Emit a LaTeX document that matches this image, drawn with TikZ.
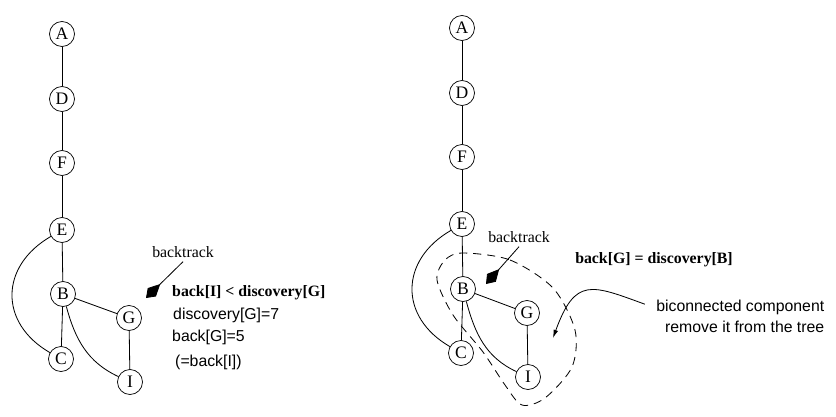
\documentclass[tikz,border=0pt]{standalone}
\usepackage{fontspec}
\setmainfont{Liberation Serif}
\newfontfamily\arialf{Liberation Sans}
\usetikzlibrary{arrows.meta}
\tikzset{
  vertex/.style={circle, draw, line width=0.6pt, inner sep=0pt, minimum size=0.75cm, font=\fontsize{15}{17}\selectfont},
  edge/.style={line width=0.7pt},
  note/.style={font=\fontsize{13.5}{16}\selectfont},
  sansnote/.style={font=\arialf\fontsize{13.5}{16}\selectfont, anchor=west, inner sep=0pt},
  pointer/.style={line width=0.7pt, -{Kite[length=17pt, width=10pt, inset=10pt]}},
}

\begin{document}
\begin{tikzpicture}[x=0.03cm, y=-0.03cm]
	\useasboundingbox (0,0) rectangle (836,416);

	% left tree
	\node[vertex] (A1) at (62,34) {A};
	\node[vertex] (D1) at (62,99) {D};
	\node[vertex] (F1) at (62,163) {F};
	\node[vertex] (E1) at (62,230) {E};
	\node[vertex] (B1) at (63,294) {B};
	\node[vertex] (G1) at (129,318) {G};
	\node[vertex] (C1) at (61,359) {C};
	\node[vertex] (I1) at (130,382) {I};

	\draw[edge] (A1) -- (D1);
	\draw[edge] (D1) -- (F1);
	\draw[edge] (F1) -- (E1);
	% vertex E
	\draw[edge] (E1) -- (B1);
	\draw[edge] (E1) to [out=210,in=150,looseness=1.3] (C1);
	% vertex B
	\draw[edge] (B1) -- (C1);
	\draw[edge] (B1) -- (G1);
	\draw[edge] (B1) to [out=285,in=155] (I1);
	% vertex G
	\draw[edge] (G1) -- (I1);

	\node[note] (lbt) at (183,252) {backtrack};
	\coordinate (ltip) at (146,298);
	\draw[pointer] (lbt.south) -- (ltip);
	\node[note, anchor=west, inner sep=0pt] (lcond) at (172,293) {\textbf{back[I] < discovery[G]}};
	\node[sansnote] (ldisc) at (173,315) {discovery[G]=7};
	\node[sansnote] (lback) at (172,337) {back[G]=5};
	\node[sansnote] (leq) at (175,362) {(=back[I])};

	% right tree
	\node[vertex] (A2) at (462,28) {A};
	\node[vertex] (D2) at (462,93) {D};
	\node[vertex] (F2) at (462,157) {F};
	\node[vertex] (E2) at (462,224) {E};
	\node[vertex] (B2) at (463,289) {B};
	\node[vertex] (G2) at (527,313) {G};
	\node[vertex] (C2) at (461,353) {C};
	\node[vertex] (I2) at (528,377) {I};

	\draw[edge] (A2) -- (D2);
	\draw[edge] (D2) -- (F2);
	\draw[edge] (F2) -- (E2);
	% vertex E
	\draw[edge] (E2) -- (B2);
	\draw[edge] (E2) to [out=210,in=150,looseness=1.3] (C2);
	% vertex B
	\draw[edge] (B2) -- (C2);
	\draw[edge] (B2) -- (G2);
	\draw[edge] (B2) to [out=285,in=155] (I2);
	% vertex G
	\draw[edge] (G2) -- (I2);

	% component outline
	\draw[edge, dash pattern=on 7pt off 5pt] plot[smooth cycle] coordinates {(463,253) (510,260) (553,288) (575,330) (572,367) (545,398) (522,405) (505,385) (483,352) (453,315) (437,280) (445,260)};

	\node[note] (rbt) at (519,237) {backtrack};
	\coordinate (rtip) at (486,284);
	\draw[pointer] (rbt.south) -- (rtip);
	\node[note] (rcond) at (654,260) {\textbf{back[G] = discovery[B]}};
	\node[sansnote, anchor=east, inner sep=3pt] (bc1) at (828,307) {biconnected component};
	\node[sansnote, anchor=east, inner sep=3pt] (bc2) at (828,327) {remove it from the tree};
	\coordinate (ctip) at (553,338);
	\draw[line width=0.7pt, -{Latex[length=7pt, width=4pt]}, shorten <=7pt] (bc1.west) to [out=160,in=70,looseness=1.6] (ctip);
\end{tikzpicture}
\end{document}
